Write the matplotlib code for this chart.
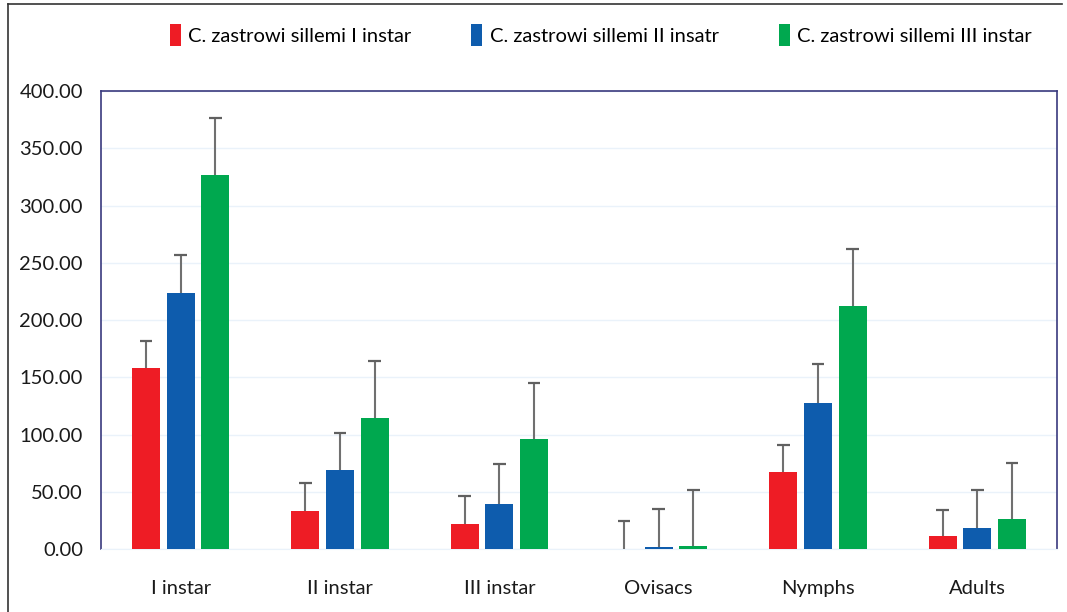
import matplotlib
matplotlib.use("Agg")
import matplotlib.pyplot as plt
import numpy as np
from matplotlib.lines import Line2D

categories = ["I instar", "II instar", "III instar", "Ovisacs", "Nymphs", "Adults"]
series_names = ["C. zastrowi sillemi I instar", "C. zastrowi sillemi II insatr", "C. zastrowi sillemi III instar"]
s1 = [158.0, 33.5, 22.0, 0.0, 67.0, 11.0]
s2 = [224.0, 68.7, 39.6, 1.5, 127.2, 18.0]
s3 = [326.5, 114.4, 95.8, 3.0, 212.2, 26.0]
e1 = [24.0, 24.1, 24.6, 24.2, 23.6, 23.0]
e2 = [33.0, 32.9, 34.6, 33.5, 34.7, 33.5]
e3 = [49.8, 50.1, 49.4, 48.5, 49.8, 49.4]
colors = ["#EE1C25", "#0E5CAD", "#00A84F"]
yticks = [0, 50, 100, 150, 200, 250, 300, 350, 400]

plt.rcParams['font.family'] = ['Lato', 'DejaVu Sans']
fig = plt.figure(figsize=(10.67, 6.12), dpi=100)
ax = fig.add_axes([0.0947, 0.1029, 0.8959, 0.7484])

x = np.arange(len(categories))
w = 0.176
step = 0.218
cap = 0.04
handles = []
for i, (vals, errs) in enumerate(zip([s1, s2, s3], [e1, e2, e3])):
    pos = x + (i - 1) * step
    vals = np.array(vals)
    errs = np.array(errs)
    b = ax.bar(pos, vals, width=w, color=colors[i], edgecolor='none',
               label=series_names[i], zorder=3)
    ax.vlines(pos, vals, vals + errs, color='#707070', linewidth=1.5, zorder=4)
    ax.hlines(vals + errs, pos - cap, pos + cap, color='#606060', linewidth=1.6, zorder=4)
    handles.append(b)

ax.set_xlim(-0.5, len(categories) - 0.5)
ax.set_ylim(0, 400)
ax.set_yticks(yticks)
ax.set_yticklabels([f"{v:.2f}" for v in yticks])
ax.set_xticks(x)
ax.set_xticklabels(categories)
ax.tick_params(axis='both', length=0, labelsize=14.5, colors='#1a1a1a')
ax.tick_params(axis='y', pad=13)
ax.tick_params(axis='x', pad=22)
ax.yaxis.grid(True, color='#EAF2FA', linewidth=1, zorder=0)
ax.set_axisbelow(True)
for side in ['left', 'top', 'right']:
    ax.spines[side].set_color('#3A3A7E')
    ax.spines[side].set_linewidth(1.2)
ax.spines['bottom'].set_color('#EAF2FA')

leg = fig.legend(handles=handles, labels=series_names, loc='center', bbox_to_anchor=(0.563, 0.943),
                 ncol=3, frameon=False, fontsize=14.5, handlelength=0.55, handleheight=1.3,
                 columnspacing=3.0, handletextpad=0.35)

# outer figure border (left and top)
fig.add_artist(Line2D([0.0075, 0.0075], [0, 0.993], transform=fig.transFigure, color='#333333', linewidth=1.2))
fig.add_artist(Line2D([0.0075, 0.995], [0.993, 0.993], transform=fig.transFigure, color='#333333', linewidth=1.2))

fig.savefig("out.png", dpi=100)
